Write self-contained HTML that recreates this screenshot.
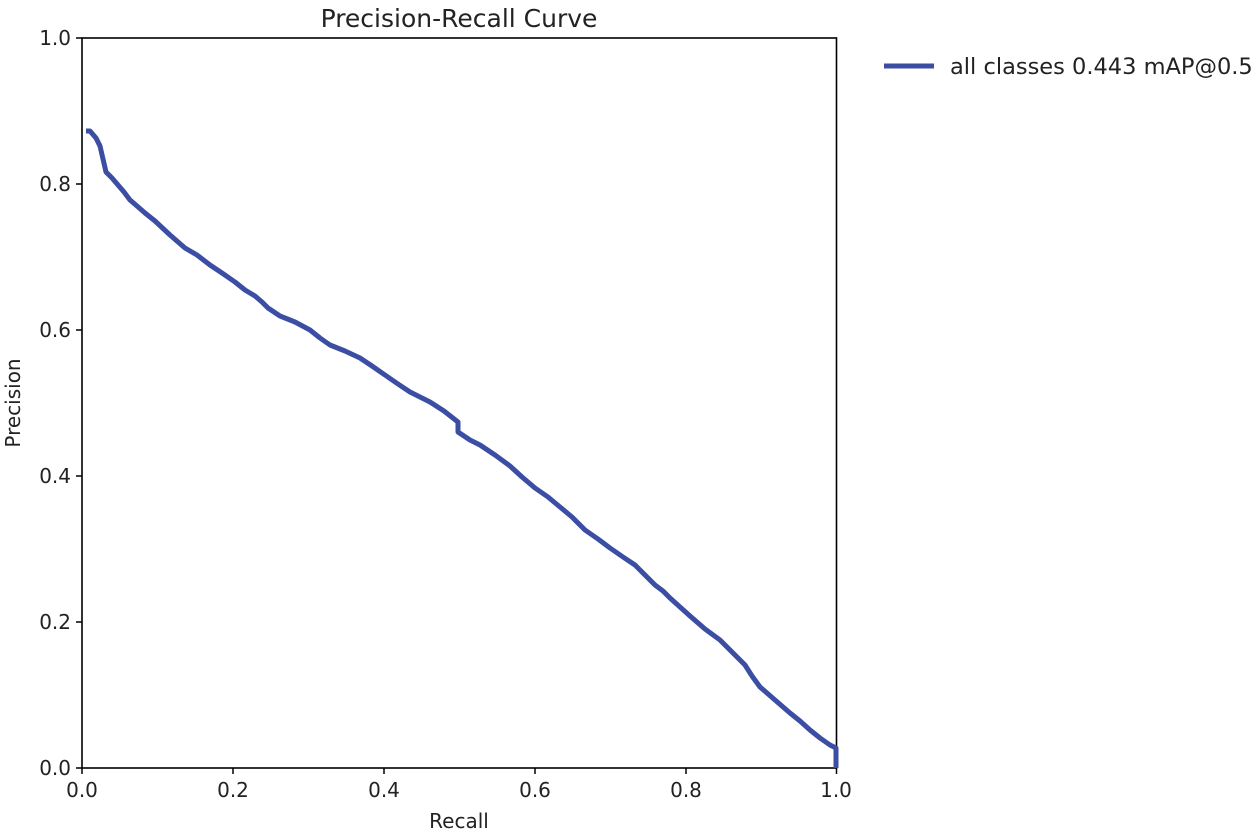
<!DOCTYPE html>
<html><head><meta charset="utf-8"><style>
body{margin:0;background:#fff;}
svg text{font-family:"DejaVu Sans","Liberation Sans",sans-serif;fill:#222;}
</style></head><body>
<svg width="1253" height="833" xmlns="http://www.w3.org/2000/svg">
<text x="459" y="27" font-size="25" text-anchor="middle">Precision-Recall Curve</text>
<rect x="82" y="38" width="754.5" height="730" fill="none" stroke="#000" stroke-width="1.6"/>
<g stroke="#000" stroke-width="1.5">
<line x1="76" y1="38" x2="82" y2="38"/><line x1="76" y1="184" x2="82" y2="184"/><line x1="76" y1="330" x2="82" y2="330"/><line x1="76" y1="476" x2="82" y2="476"/><line x1="76" y1="622" x2="82" y2="622"/><line x1="76" y1="768" x2="82" y2="768"/>
<line x1="82" y1="768" x2="82" y2="774"/><line x1="233" y1="768" x2="233" y2="774"/><line x1="384" y1="768" x2="384" y2="774"/><line x1="535" y1="768" x2="535" y2="774"/><line x1="686" y1="768" x2="686" y2="774"/><line x1="836.5" y1="768" x2="836.5" y2="774"/>
</g>
<g font-size="20" text-anchor="end">
<text x="71" y="45">1.0</text><text x="71" y="191">0.8</text><text x="71" y="337">0.6</text><text x="71" y="483">0.4</text><text x="71" y="629">0.2</text><text x="71" y="775">0.0</text>
</g>
<g font-size="20" text-anchor="middle">
<text x="82" y="797">0.0</text><text x="233" y="797">0.2</text><text x="384" y="797">0.4</text><text x="535" y="797">0.6</text><text x="686" y="797">0.8</text><text x="836" y="797">1.0</text>
<text x="459" y="828">Recall</text>
</g>
<text font-size="20" text-anchor="middle" transform="translate(20,403) rotate(-90)">Precision</text>
<polyline fill="none" stroke="#3b4ea3" stroke-width="5" stroke-linejoin="round" points="86,131 90,131 96,138 100,146 106,172 112,178 118,185 124,192 130,200 137,206 145,213 155,221 170,235 185,248 197,255 210,265 222,273 235,282 245,290 255,296 262,302 268,308 280,316 295,322 310,330 320,338 330,345 345,351 360,358 372,366 385,375 398,384 410,392 420,397 430,402 444,411 458,422 458,432 470,440 480,445 495,455 510,466 522,477 535,488 548,497 560,507 572,517 585,530 598,539 610,548 623,557 635,565 645,575 655,585 663,591 670,598 680,607 690,616 705,629 720,640 733,653 745,665 752,676 760,687 775,700 790,713 800,721 810,730 820,738 830,745 836,748 836,768"/>
<line x1="884" y1="66" x2="934" y2="66" stroke="#3b4ea3" stroke-width="5"/>
<text x="950" y="74" font-size="22.5">all classes 0.443 mAP@0.5</text>
</svg>
</body></html>
